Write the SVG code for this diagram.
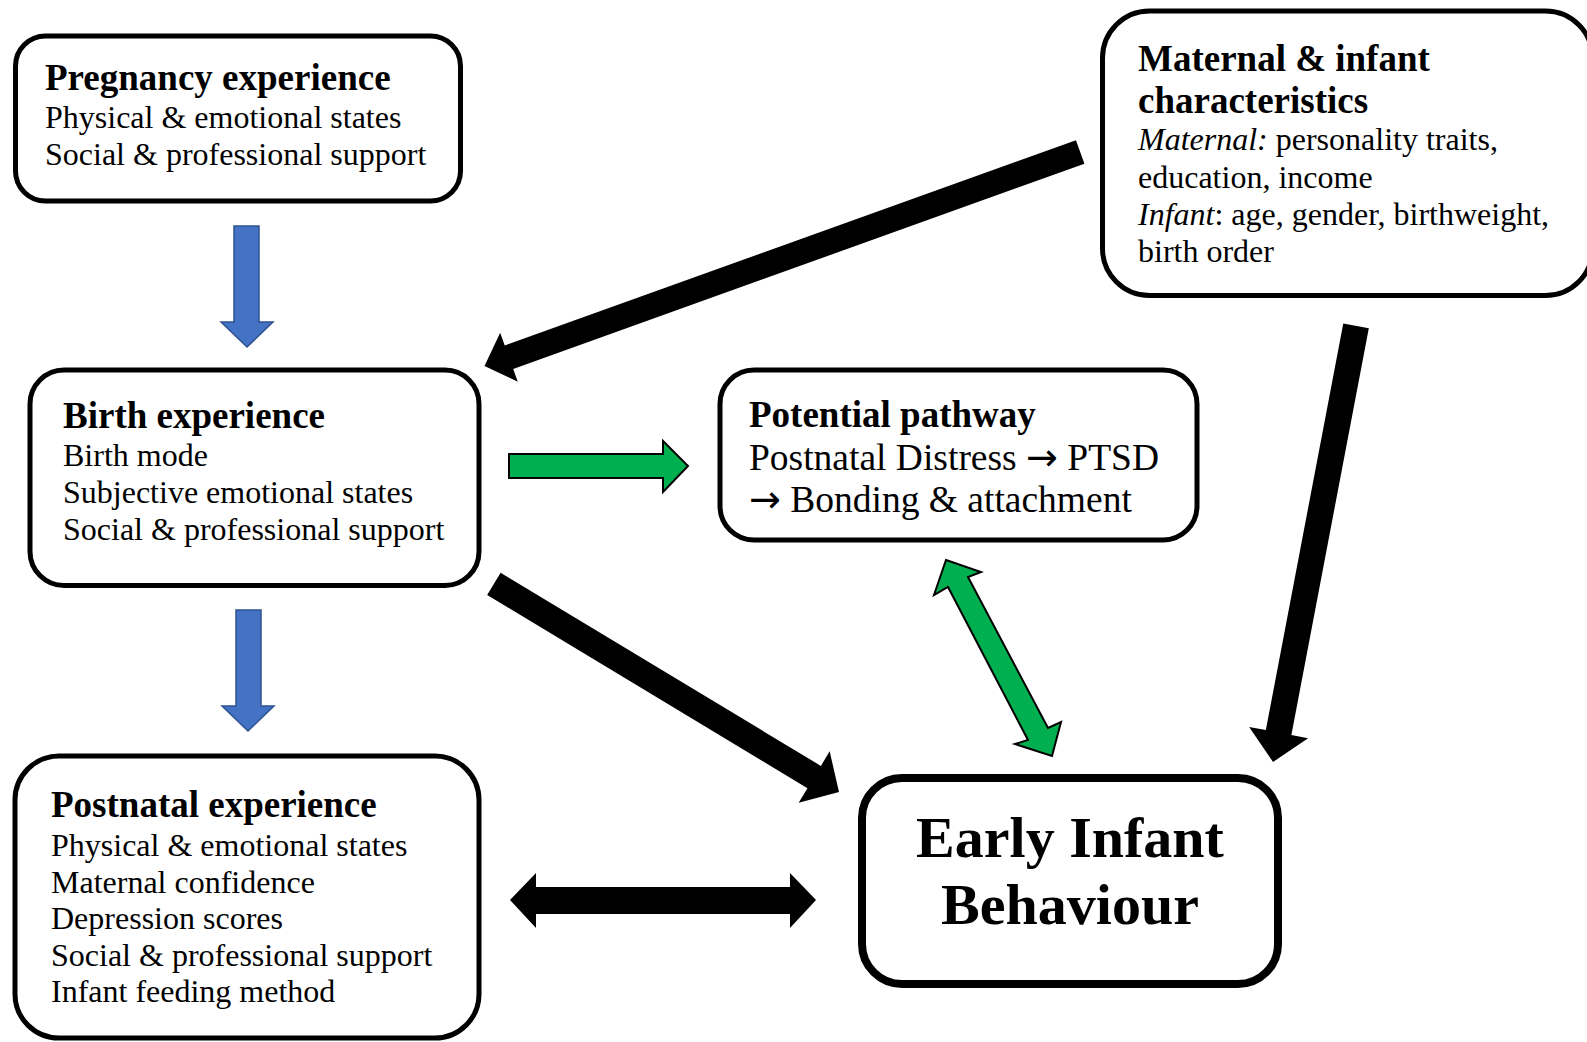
<svg xmlns="http://www.w3.org/2000/svg" width="1587" height="1042" viewBox="0 0 1587 1042">
<style>
  .box { fill: #fff; stroke: #000; stroke-width: 5; }
  .big { fill: #fff; stroke: #000; stroke-width: 8; }
  text { font-family: "Liberation Serif", "Times New Roman", serif; fill: #000; }
  .h { font-size: 37px; font-weight: bold; }
  .t { font-size: 32px; }
  .p { font-size: 37.5px; }
  .arr { font-family: "DejaVu Sans", sans-serif; font-size: 38px; }
  .eib { font-size: 58px; font-weight: bold; text-anchor: middle; }
  .blk { fill: #000; }
  .blue { fill: #4472C4; stroke: #2F528F; stroke-width: 1.5; }
  .grn { fill: #00B050; stroke: #000; stroke-width: 2; stroke-linejoin: miter; }
</style>
<rect width="1587" height="1042" fill="#fff"/>

<g id="connectors">
  <polygon class="blue" points="234,226 259,226 259,322 273,322 247,347 221,322 234,322"/>
  <polygon class="blue" points="236,610 261,610 261,706 274,706 248,731 222,706 236,706"/>
  <polygon class="grn" points="509,454 663,454 663,441 688,466 663,492 663,478 509,478"/>
  <polygon class="grn" points="946,560 981,572 968,577 1048,728 1061,722 1052,756 1015,744 1028,740 948,587 934,595"/>
  <polygon class="blk" transform="translate(484.5,366) rotate(160.23)" points="-633,-12.5 -26,-12.5 -26,-26 0,0 -26,26 -26,12.5 -633,12.5"/>
  <polygon class="blk" transform="translate(839,792) rotate(31.09)" points="-403,-13 -29,-13 -29,-30 0,0 -29,30 -29,13 -403,13"/>
  <polygon class="blk" transform="translate(1273,762) rotate(100.78)" points="-444,-13 -30,-13 -30,-30 0,0 -30,30 -30,13 -444,13"/>
  <polygon class="blk" points="510,900 536,873 536,887 790,887 790,873 816,900 790,928 790,914 536,914 536,928"/>
</g>

<g id="pregnancy">
  <rect class="box" x="15.5" y="36" width="445" height="165" rx="30"/>
  <text class="h" x="45" y="90">Pregnancy experience</text>
  <text class="t" x="45" y="128">Physical &amp; emotional states</text>
  <text class="t" x="45" y="165">Social &amp; professional support</text>
</g>

<g id="maternal">
  <rect class="box" x="1102.5" y="11" width="490" height="284.5" rx="47"/>
  <text class="h" x="1138" y="71">Maternal &amp; infant</text>
  <text class="h" x="1138" y="113">characteristics</text>
  <text class="t" x="1138" y="150"><tspan font-style="italic">Maternal:</tspan> personality traits,</text>
  <text class="t" x="1138" y="188">education, income</text>
  <text class="t" x="1138" y="225"><tspan font-style="italic">Infant</tspan>: age, gender, birthweight,</text>
  <text class="t" x="1138" y="262">birth order</text>
</g>

<g id="birth">
  <rect class="box" x="30" y="370" width="449" height="215.5" rx="34"/>
  <text class="h" x="63" y="428">Birth experience</text>
  <text class="t" x="63" y="466">Birth mode</text>
  <text class="t" x="63" y="503">Subjective emotional states</text>
  <text class="t" x="63" y="540">Social &amp; professional support</text>
</g>

<g id="pathway">
  <rect class="box" x="720" y="370" width="477" height="170" rx="34"/>
  <text class="h" x="749" y="427">Potential pathway</text>
  <text class="p" x="749" y="470">Postnatal Distress <tspan class="arr">→</tspan> PTSD</text>
  <text class="p" x="749" y="512"><tspan class="arr">→</tspan> Bonding &amp; attachment</text>
</g>

<g id="postnatal">
  <rect class="box" x="15" y="756" width="464" height="282" rx="44"/>
  <text class="h" x="51" y="817">Postnatal experience</text>
  <text class="t" x="51" y="856">Physical &amp; emotional states</text>
  <text class="t" x="51" y="893">Maternal confidence</text>
  <text class="t" x="51" y="929">Depression scores</text>
  <text class="t" x="51" y="966">Social &amp; professional support</text>
  <text class="t" x="51" y="1002">Infant feeding method</text>
</g>

<g id="early-infant">
  <rect class="big" x="862" y="778" width="416" height="206" rx="40"/>
  <text class="eib" x="1070" y="857">Early Infant</text>
  <text class="eib" x="1070" y="924">Behaviour</text>
</g>
</svg>
